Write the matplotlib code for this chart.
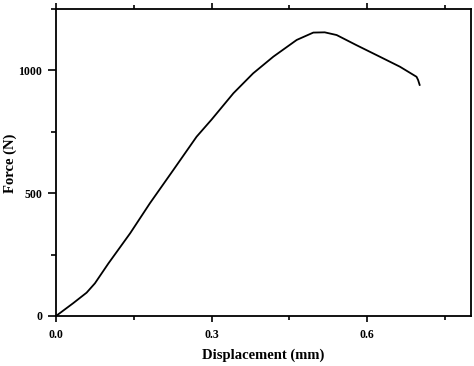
import matplotlib
matplotlib.use("Agg")
import matplotlib.pyplot as plt
from matplotlib.ticker import MultipleLocator

displacement = [0.0, 0.033, 0.059, 0.075, 0.101, 0.143, 0.181, 0.226, 0.271, 0.300,
                0.342, 0.380, 0.419, 0.464, 0.496, 0.518, 0.541, 0.579, 0.624,
                0.663, 0.695, 0.698, 0.701]
force = [0, 52, 95, 133, 214, 337, 459, 594, 730, 800,
         907, 988, 1056, 1124, 1154, 1155, 1144, 1103, 1056,
         1015, 974, 961, 941]

x_major = [0.0, 0.3, 0.6]
x_labels = ["0.0", "0.3", "0.6"]
y_major = [0, 500, 1000]
y_labels = ["0", "500", "1000"]

plt.rcParams['font.family'] = ['Liberation Serif', 'DejaVu Serif']
plt.rcParams['font.weight'] = 'bold'

fig = plt.figure(figsize=(4.74, 3.66), dpi=100)
ax = fig.add_axes([56/474, 50/366, 415/474, 307/366])
ax.plot(displacement, force, color='black', linewidth=1.3)
ax.set_xlim(0, 0.8)
ax.set_ylim(0, 1250)

ax.set_xticks(x_major)
ax.set_xticklabels(x_labels, fontsize=8.5, fontweight='bold')
ax.set_yticks(y_major)
ax.set_yticklabels(y_labels, fontsize=8.5, fontweight='bold')
ax.xaxis.set_minor_locator(MultipleLocator(0.15))
ax.yaxis.set_minor_locator(MultipleLocator(250))

ax.tick_params(axis='x', which='both', direction='out', top=True, bottom=True,
               labeltop=False, width=1.2, pad=5)
ax.tick_params(axis='x', which='major', length=4)
ax.tick_params(axis='x', which='minor', length=3)
ax.tick_params(axis='y', which='both', direction='out', left=True, right=False,
               width=1.2, pad=4)
ax.tick_params(axis='y', which='major', length=6)
ax.tick_params(axis='y', which='minor', length=3.5)

for s in ax.spines.values():
    s.set_linewidth(1.3)

ax.set_xlabel("Displacement (mm)", fontsize=10.5, fontweight='bold', va='center')
ax.set_ylabel("Force (N)", fontsize=10.5, fontweight='bold', va='center')
ax.xaxis.set_label_coords((263 - 56) / 415, (316 - 355) / 307)
ax.yaxis.set_label_coords((10 - 56) / 415, (316 - 163) / 307)

fig.savefig("out.png", dpi=100)
